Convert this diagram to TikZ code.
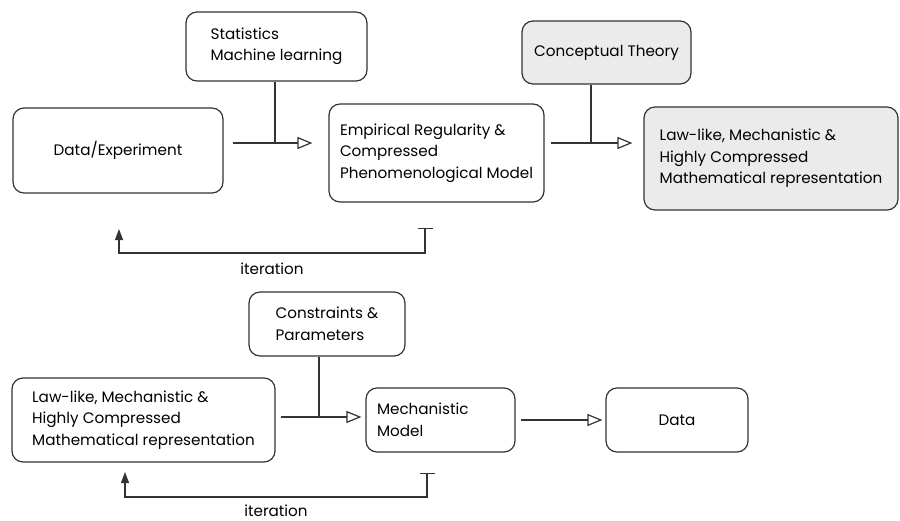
\documentclass[tikz,border=0pt]{standalone}
\usepackage{fontspec}
\setmainfont{Poppins}
\usetikzlibrary{arrows.meta}
\definecolor{ink}{HTML}{333333}
\definecolor{shade}{HTML}{EBEBEB}
\begin{document}
\begin{tikzpicture}[x=1pt,y=-1pt, >=Stealth,
      box/.style={draw=ink,line width=1.2pt,rounded corners=11pt,align=left,
        text=black,font=\fontsize{15.2}{21.5}\selectfont,inner sep=0pt},
      theory/.style={box,fill=shade},
      flow/.style={draw=ink,line width=1.2pt,-{Triangle[open,length=15pt,width=12pt]}},
      loop/.style={draw=ink,line width=1.2pt,{Bar[width=15pt]}-{Triangle[length=11pt,width=8pt]}},
      looplabel/.style={inner sep=0pt,text=black,font=\fontsize{15.2}{16}\selectfont} ]
      \useasboundingbox (0,0) rectangle (900,520);

      % upper chain
      \node[box,minimum width=181pt,minimum height=69pt] (stats) at (276.5,46.5) {Statistics\\Machine learning};
      \node[box,minimum width=210pt,minimum height=85pt] (dataexp) at (118,150.5) {Data/Experiment};
      \node[box,minimum width=215pt,minimum height=98pt] (emp) at (436.5,153) {Empirical Regularity \&\\Compressed\\Phenomenological Model};
      \node[theory,minimum width=169pt,minimum height=63pt] (concept) at (606.5,52.5) {Conceptual Theory};
      \node[theory,minimum width=254pt,minimum height=103pt] (lawtop) at (771,158.5) {Law-like, Mechanistic \&\\Highly Compressed\\Mathematical representation};

      % lower chain
      \node[box,minimum width=156pt,minimum height=64pt] (constr) at (327,324) {Constraints \&\\Parameters};
      \node[box,minimum width=263pt,minimum height=84pt] (lawbot) at (143.5,420) {Law-like, Mechanistic \&\\Highly Compressed\\Mathematical representation};
      \node[box,minimum width=149pt,minimum height=64pt,text width=127pt,inner xsep=11pt] (mech) at (440.5,420) {Mechanistic\\Model};
      \node[box,minimum width=142pt,minimum height=64pt] (data) at (677,420) {Data};

      % junctions and loop ends
      \coordinate (j1) at (275,143);
      \coordinate (j2) at (591,143);
      \coordinate (j3) at (319,417);
      \coordinate (r1) at (425,228);
      \coordinate (l1) at (119,229);
      \coordinate (r2) at (427,473);
      \coordinate (l2) at (125,472);

      % arrows
      \draw[flow] (dataexp.east |- j1) ++(9,0) -- ([xshift=-16pt]emp.west |- j1);
      \draw[draw=ink,line width=1.2pt] (stats.south -| j1) -- (j1);
      \draw[flow] (emp.east |- j2) ++(6,0) -- ([xshift=-11pt]lawtop.west |- j2);
      \draw[draw=ink,line width=1.2pt] (concept.south -| j2) -- (j2);

      \draw[flow] (lawbot.east |- j3) ++(5,0) -- ([xshift=-4pt]mech.west |- j3);
      \draw[draw=ink,line width=1.2pt] (constr.south -| j3) -- (j3);
      \draw[flow] ([xshift=5pt]mech.east) -- ([xshift=-3pt]data.west);

      % iteration loops
      \draw[loop] (r1) -- (r1 |- 0,253) -- node[below=9pt,looplabel] (it1) {iteration} (l1 |- 0,253) -- (l1);
      \draw[loop] (r2) -- (r2 |- 0,497) -- node[below=7pt,looplabel] (it2) {iteration} (l2 |- 0,497) -- (l2);
\end{tikzpicture}
\end{document}
